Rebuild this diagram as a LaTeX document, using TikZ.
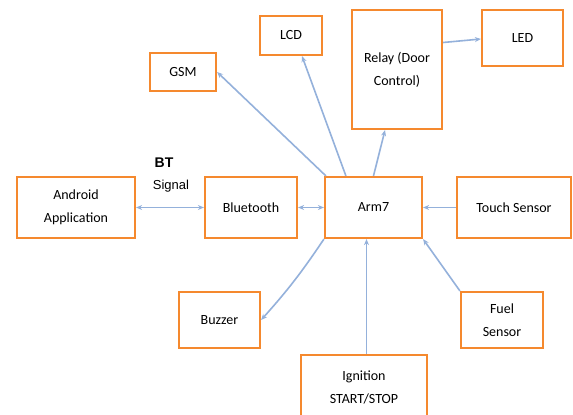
\documentclass[tikz,border=0pt]{standalone}
\usepackage{fontspec}
\setmainfont{Carlito}
\newfontfamily\arialfont{Liberation Sans}
\usetikzlibrary{arrows.meta}
\definecolor{boxorange}{HTML}{F5892E}
\definecolor{linkblue}{HTML}{94B1DB}
\tikzset{
  blk/.style={draw=boxorange, line width=2.2pt, fill=white, align=center, inner sep=2pt, font=\fontsize{14}{23}\selectfont},
  link/.style={draw=linkblue, line width=1.6pt, -{Stealth[length=6pt,width=5pt]}},
  dlink/.style={draw=linkblue, line width=1.6pt, {Stealth[length=6pt,width=5pt]}-{Stealth[length=6pt,width=5pt]}}
}
\begin{document}
\begin{tikzpicture}[x=1pt,y=-1pt]
\clip (0,0) rectangle (573,415);
\fill[white] (0,0) rectangle (573,415);
\node[blk, minimum width=66pt, minimum height=38pt] (gsm) at (183,72) {GSM};
\node[blk, minimum width=62pt, minimum height=39pt] (lcd) at (291,35.5) {LCD};
\node[blk, minimum width=90pt, minimum height=119pt] (relay) at (397,69.5) {Relay (Door\\Control)};
\node[blk, minimum width=81pt, minimum height=56pt] (led) at (522.5,38) {LED};
\node[blk, minimum width=118pt, minimum height=61pt] (android) at (76,207.5) {Android\\Application};
\node[blk, minimum width=92pt, minimum height=61pt] (bt) at (251,207.5) {Bluetooth};
\node[blk, minimum width=97pt, minimum height=61pt] (arm) at (373.5,207.5) {Arm7};
\node[blk, minimum width=114pt, minimum height=61pt] (touch) at (514,207.5) {Touch Sensor};
\node[blk, minimum width=81pt, minimum height=56pt] (buzzer) at (219.5,320) {Buzzer};
\node[blk, minimum width=82pt, minimum height=56pt] (fuel) at (502,320) {Fuel\\Sensor};
\node[blk, minimum width=126pt, minimum height=64pt] (ign) at (364,387) {Ignition\\START/STOP};
\node[font=\arialfont\bfseries\fontsize{14}{14}\selectfont, inner sep=0pt] (btl) at (164,163) {BT};
\node[font=\arialfont\fontsize{13}{13}\selectfont, inner sep=0pt] (sigl) at (171,186) {Signal};
\draw[link] ([xshift=2pt]arm.north west) -- (gsm.east);
\draw[link] ([xshift=22pt]arm.north west) -- ([xshift=11pt]lcd.south);
\draw[link] (arm.north) -- ([xshift=-12pt]relay.south);
\draw[link] ([yshift=27pt]relay.east) -- ([yshift=-1pt]led.west);
\draw[dlink] (android.east) -- (bt.west);
\draw[dlink] (bt.east) -- (arm.west);
\draw[link] (touch.west) -- (arm.east);
\draw[link] (fuel.north west) -- (arm.south east);
\draw[link] ([xshift=-7pt]arm.south |- ign.north) -- ([xshift=-7pt]arm.south);
\draw[link] (arm.south west) to[bend left=4] (buzzer.east);
\end{tikzpicture}
\end{document}
